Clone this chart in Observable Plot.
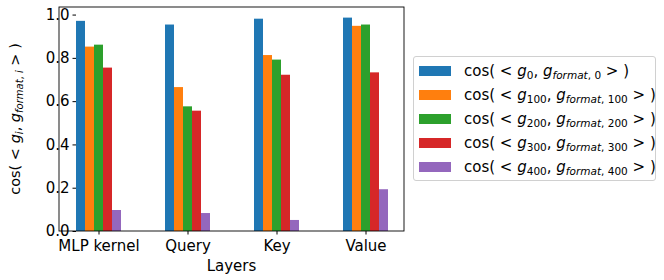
<!DOCTYPE html>
<html>
<head>
<meta charset="utf-8">
<script src="https://cdn.jsdelivr.net/npm/d3@7"></script>
<script src="https://cdn.jsdelivr.net/npm/@observablehq/plot@0.6"></script>
<style>
  body { margin: 0; background: #fff; }
  #wrap { position: relative; width: 664px; height: 280px; font-family: "DejaVu Sans", sans-serif; }
  #legend { position: absolute; left: 413px; top: 56px; width: 243px; height: 125px; border: 1px solid #d0d0d0; border-radius: 3px; box-sizing: border-box; background: #fff; }
  .row { position: absolute; left: 5px; height: 24px; display: flex; align-items: center; font-size: 15px; color: #000; white-space: nowrap; }
  .sw { width: 32px; height: 10px; margin-right: 13px; }
  .row sub { font-size: 10.5px; vertical-align: -3px; }
</style>
</head>
<body>
<div id="wrap"><div id="legend"></div></div>
<script>
const layers = ["MLP kernel", "Query", "Key", "Value"];
const steps = ["0", "100", "200", "300", "400"];
const colors = ["#1f77b4", "#ff7f0e", "#2ca02c", "#d62728", "#9467bd"];
const step0   = [0.971, 0.954, 0.981, 0.986];
const step100 = [0.852, 0.665, 0.813, 0.948];
const step200 = [0.861, 0.576, 0.792, 0.954];
const step300 = [0.755, 0.556, 0.722, 0.733];
const step400 = [0.097, 0.083, 0.051, 0.193];
const yTicks = [0, 0.2, 0.4, 0.6, 0.8, 1.0];
const seriesValues = [step0, step100, step200, step300, step400];

const data = [];
layers.forEach((layer, i) => {
  steps.forEach((s, j) => data.push({layer, step: s, value: seriesValues[j][i]}));
});

const W = 664, H = 280;
const mL = 59, mR = 260, mT = 7, mB = 49;

const plot = Plot.plot({
  width: W,
  height: H,
  marginLeft: mL,
  marginRight: mR,
  marginTop: mT,
  marginBottom: mB,
  style: {fontFamily: "DejaVu Sans, sans-serif", fontSize: "15px", background: "transparent", color: "#000"},
  facet: {data, x: "layer"},
  fx: {domain: layers, paddingInner: 0.5, paddingOuter: 0.18, label: null, axis: "bottom", tickSize: 3.5, tickPadding: 5},
  x: {domain: steps, axis: null, paddingInner: 0, paddingOuter: 0},
  y: {domain: [0, 1.035], ticks: yTicks, tickFormat: ".1f", label: null, tickSize: 3.5, tickPadding: 3.5},
  color: {domain: steps, range: colors},
  marks: [
    Plot.barY(data, {x: "step", y: "value", fill: "step"})
  ]
});

const svg = d3.select(plot);
svg.append("rect")
  .attr("x", mL).attr("y", mT)
  .attr("width", W - mL - mR).attr("height", H - mT - mB)
  .attr("fill", "none").attr("stroke", "#000").attr("stroke-width", 0.9);

svg.append("text")
  .attr("x", mL + (W - mL - mR) / 2).attr("y", 271)
  .attr("text-anchor", "middle").attr("font-size", 15).attr("fill", "#000")
  .text("Layers");

const yl = svg.append("text")
  .attr("transform", `translate(20,${mT + (H - mT - mB) / 2}) rotate(-90)`)
  .attr("text-anchor", "middle").attr("font-size", 14.5).attr("fill", "#000");
yl.append("tspan").text("cos( < ");
yl.append("tspan").attr("font-style", "italic").text("g");
yl.append("tspan").attr("font-size", 10).attr("dy", 3).attr("font-style", "italic").text("i");
yl.append("tspan").attr("dy", -3).text(", ");
yl.append("tspan").attr("font-style", "italic").text("g");
yl.append("tspan").attr("font-size", 10).attr("dy", 3).attr("font-style", "italic").text("format");
yl.append("tspan").attr("font-size", 10).text(", ");
yl.append("tspan").attr("font-size", 10).attr("font-style", "italic").text("i");
yl.append("tspan").attr("dy", -3).text(" > )");

d3.select("#wrap").node().prepend(plot);
plot.style.position = "absolute";
plot.style.left = "0px";
plot.style.top = "0px";

const legend = d3.select("#legend");
steps.forEach((s, j) => {
  const row = legend.append("div").attr("class", "row").style("top", (2 + j * 24) + "px");
  row.append("div").attr("class", "sw").style("background", colors[j]);
  row.append("span").html(`cos( &lt; <i>g</i><sub>${s}</sub>, <i>g</i><sub><i>format</i>, ${s}</sub> &gt; )`);
});
</script>
</body>
</html>
